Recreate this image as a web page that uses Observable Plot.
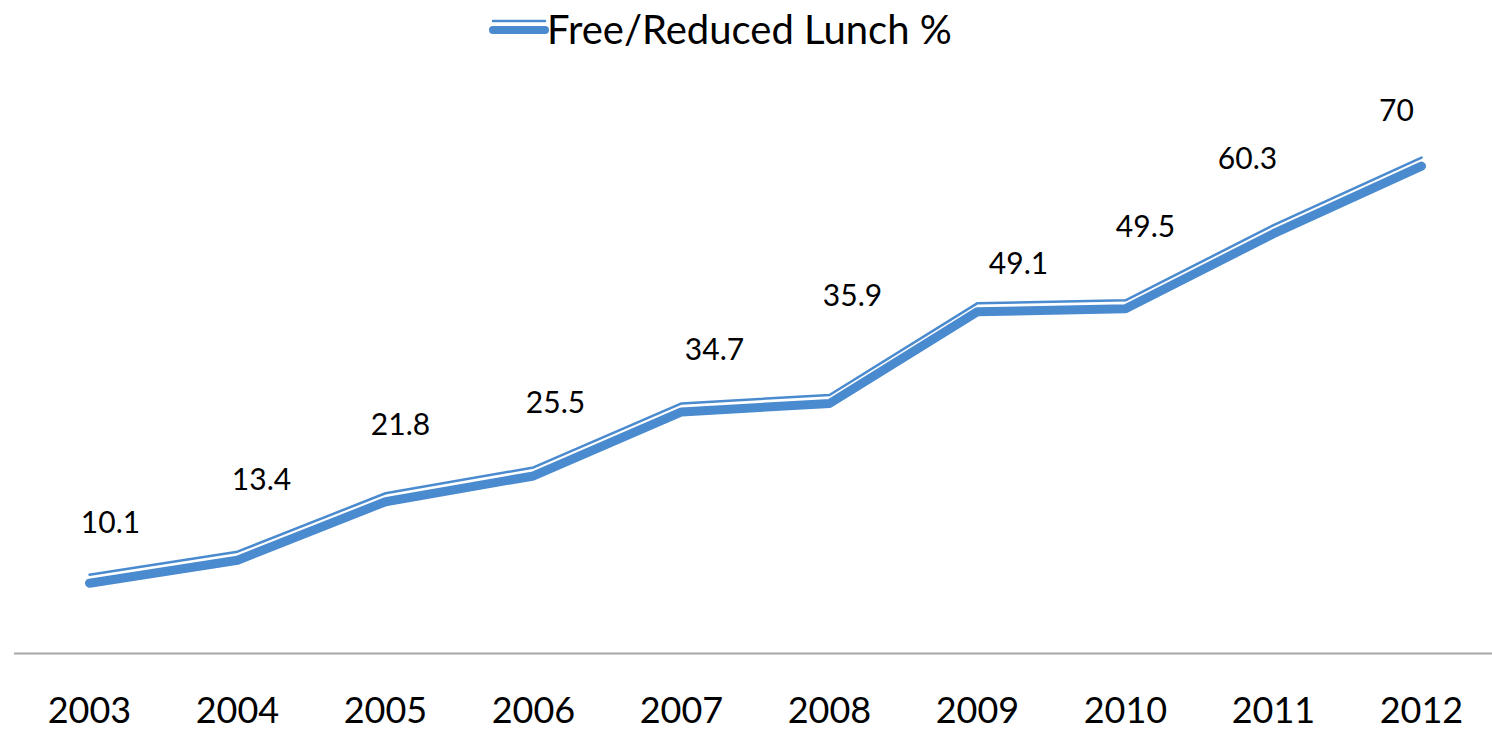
<!DOCTYPE html>
<html>
<head>
<meta charset="utf-8">
<script src="https://cdn.jsdelivr.net/npm/d3@7"></script>
<script src="https://cdn.jsdelivr.net/npm/@observablehq/plot@0.6"></script>
<style>
  html, body { margin: 0; padding: 0; background: #fff; }
  #legend { position: relative; width: 1492px; height: 70px; font-family: Lato, "Open Sans", sans-serif; }
  #legend svg { position: absolute; left: 489px; top: 14px; }
  #legend span { position: absolute; left: 547px; top: 5px; font-size: 40px; color: #000; white-space: nowrap; line-height: 1.2; }
</style>
</head>
<body>
<div id="legend"></div>
<div id="chart"></div>
<script>
// ---- data ----
const years = ["2003", "2004", "2005", "2006", "2007", "2008", "2009", "2010", "2011", "2012"];
const lunchPct = [10.1, 13.4, 21.8, 25.5, 34.7, 35.9, 49.1, 49.5, 60.3, 70];
const seriesName = "Free/Reduced Lunch %";
// hand-placed data label nudges (px) as in the original chart
const labelNudge = [[21, -60], [24, -80], [15, -76], [22, -73], [33, -62], [23, -107], [41, -47], [20, -81], [-26, -74], [-25, -55]];

const blue = "#4a8acf";
const data = years.map((y, i) => ({year: y, value: lunchPct[i]}));

// legend
const legend = document.getElementById("legend");
legend.innerHTML = `<svg width="60" height="30">
  <line x1="4" x2="56" y1="7" y2="7" stroke="${blue}" stroke-width="2.5" stroke-linecap="round"/>
  <line x1="4" x2="56" y1="16" y2="16" stroke="${blue}" stroke-width="8" stroke-linecap="round"/>
</svg><span>${seriesName}</span>`;

const chart = Plot.plot({
  width: 1492,
  height: 662,
  marginTop: 26,
  marginBottom: 79,
  marginLeft: 14,
  marginRight: -4,
  style: {fontFamily: "Lato, 'Open Sans', sans-serif", color: "#000", background: "#fff"},
  x: {type: "point", domain: years, padding: 0.5, label: null},
  y: {domain: [0, 80], axis: null},
  marks: [
    Plot.ruleY([0], {stroke: "#a8a8a8", strokeWidth: 2}),
    Plot.axisX({tickSize: 0, tickPadding: 44, fontSize: 36, label: null, fill: "#000"}),
    Plot.line(data, {x: "year", y: "value", stroke: blue, strokeWidth: 9, strokeLinecap: "round", strokeLinejoin: "round"}),
    Plot.line(data, {x: "year", y: "value", dy: -8.5, stroke: blue, strokeWidth: 2.5, strokeLinecap: "round", strokeLinejoin: "round"}),
    ...data.map((d, i) => Plot.text([d], {
      x: "year", y: "value", text: (d) => String(d.value),
      dx: labelNudge[i][0], dy: labelNudge[i][1],
      fontSize: 30, fill: "#000"
    }))
  ]
});
document.getElementById("chart").appendChild(chart);
</script>
</body>
</html>
